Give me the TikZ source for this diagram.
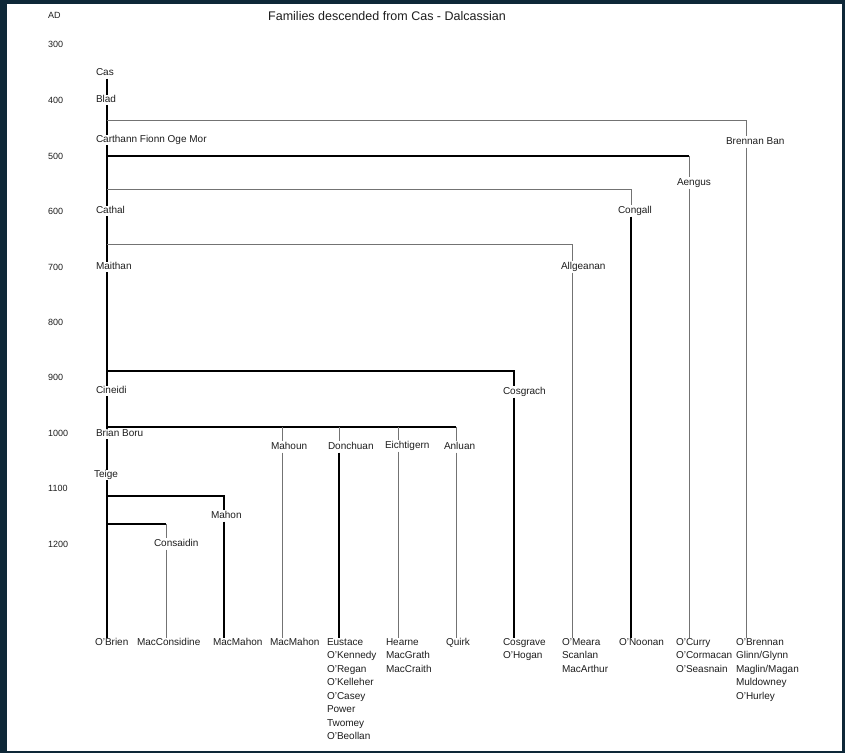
\documentclass[tikz,border=0pt]{standalone}
\usepackage{fontspec}
\setmainfont{Liberation Sans}
\usetikzlibrary{backgrounds}
\definecolor{frame}{RGB}{14,40,56}
\definecolor{ink}{RGB}{30,30,30}
\tikzset{
  lbl/.style={font=\fontsize{10}{12}\selectfont, inner sep=0.8pt, fill=white, text height=7.2pt, text depth=2pt, anchor=west, text=ink},
  stack/.style={font=\fontsize{10}{13.5}\selectfont, inner sep=0.8pt, anchor=north west, align=left, text=ink},
  yr/.style={font=\fontsize{9}{11}\selectfont, inner sep=0pt, anchor=west, text=ink},
  thinl/.style={draw=black!55, line width=0.7pt},
  thickl/.style={draw=black, line width=1.1pt}
}
\begin{document}
\begin{tikzpicture}[x=1pt,y=-1pt]
\useasboundingbox (0,0) rectangle (845,753);
% title and years
\node[font=\fontsize{12.5}{14}\selectfont, text=ink] (title) at (387,16) {Families descended from Cas - Dalcassian};
\node[yr] (yAD) at (48,15) {AD};
\node[yr] (y300) at (48,44) {300};
\node[yr] (y400) at (48,100) {400};
\node[yr] (y500) at (48,156) {500};
\node[yr] (y600) at (48,211) {600};
\node[yr] (y700) at (48,267) {700};
\node[yr] (y800) at (48,322) {800};
\node[yr] (y900) at (48,377) {900};
\node[yr] (y1000) at (48,433) {1000};
\node[yr] (y1100) at (48,488) {1100};
\node[yr] (y1200) at (48,544) {1200};
% main line labels
\node[lbl] (cas) at (95,73) {Cas};
\node[lbl] (blad) at (95,100) {Blad};
\node[lbl] (carthann) at (95,140) {Carthann Fionn Oge Mor};
\node[lbl] (cathal) at (95,211) {Cathal};
\node[lbl] (maithan) at (95,267) {Maithan};
\node[lbl] (cineidi) at (95,391) {Cineidi};
\node[lbl] (brianboru) at (95,434) {Brian Boru};
\node[lbl] (teige) at (93,475) {Teige};
% branch labels
\node[lbl] (brennan) at (725,142) {Brennan Ban};
\node[lbl] (aengus) at (676,183) {Aengus};
\node[lbl] (congall) at (617,211) {Congall};
\node[lbl] (allgeanan) at (560,267) {Allgeanan};
\node[lbl] (cosgrach) at (502,392) {Cosgrach};
\node[lbl] (mahoun) at (270,447) {Mahoun};
\node[lbl] (donchuan) at (327,447) {Donchuan};
\node[lbl] (eichtigern) at (384,446) {Eichtigern};
\node[lbl] (anluan) at (443,447) {Anluan};
\node[lbl] (mahon) at (210,516) {Mahon};
\node[lbl] (consaidin) at (153,544) {Consaidin};
% bottom family names
\node[stack] (obrien) at (94,637.5) {O'Brien};
\node[stack] (macconsidine) at (136,637.5) {MacConsidine};
\node[stack] (macmahonA) at (212,637.5) {MacMahon};
\node[stack] (macmahonB) at (269,637.5) {MacMahon};
\node[stack] (eustace) at (326,637.5) {Eustace\\O'Kennedy\\O'Regan\\O'Kelleher\\O'Casey\\Power\\Twomey\\O'Beollan};
\node[stack] (hearne) at (385,637.5) {Hearne\\MacGrath\\MacCraith};
\node[stack] (quirk) at (445,637.5) {Quirk};
\node[stack] (cosgrave) at (502,637.5) {Cosgrave\\O'Hogan};
\node[stack] (omeara) at (561,637.5) {O'Meara\\Scanlan\\MacArthur};
\node[stack] (onoonan) at (618,637.5) {O'Noonan};
\node[stack] (ocurry) at (675,637.5) {O'Curry\\O'Cormacan\\O'Seasnain};
\node[stack] (obrennan) at (735,637.5) {O'Brennan\\Glinn/Glynn\\Maglin/Magan\\Muldowney\\O'Hurley};
% column coordinates
\coordinate (xS) at (107,0);
\coordinate (xBB) at (746,0);
\coordinate (xAe) at (689,0);
\coordinate (xCo) at (631,0);
\coordinate (xAl) at (572,0);
\coordinate (xCg) at (514,0);
\coordinate (xMo) at (282,0);
\coordinate (xDo) at (339,0);
\coordinate (xEi) at (398,0);
\coordinate (xAn) at (456,0);
\coordinate (xMh) at (224,0);
\coordinate (xCs) at (166,0);
% junctions on the spine
\coordinate (jBB) at (107,120);
\coordinate (jAe) at (107,156);
\coordinate (jCo) at (107,189);
\coordinate (jAl) at (107,244);
\coordinate (jCg) at (107,371);
\coordinate (jBr) at (107,427);
\coordinate (jMh) at (107,496);
\coordinate (jCs) at (107,524);
\begin{scope}[on background layer]
\fill[frame] (0,0) rectangle (845,753);
\fill[white] (7,4) rectangle (842,751);
% spine
\draw[thickl] (cas.south -| xS) -- (obrien.north -| xS);
% Brennan Ban
\draw[thinl] (jBB) -| (brennan.north -| xBB);
\draw[thinl] (brennan.south -| xBB) -- (obrennan.north -| xBB);
% Aengus
\draw[thickl] (jAe) -- (jAe -| xAe);
\draw[thinl] (jAe -| xAe) -- (aengus.north -| xAe);
\draw[thinl] (aengus.south -| xAe) -- (ocurry.north -| xAe);
% Congall
\draw[thinl] (jCo) -| (congall.north -| xCo);
\draw[thickl] (congall.south -| xCo) -- (onoonan.north -| xCo);
% Allgeanan
\draw[thinl] (jAl) -| (allgeanan.north -| xAl);
\draw[thinl] (allgeanan.south -| xAl) -- (omeara.north -| xAl);
% Cosgrach
\draw[thickl] (jCg) -| (cosgrach.north -| xCg);
\draw[thickl] (cosgrach.south -| xCg) -- (cosgrave.north -| xCg);
% Brian Boru's brothers
\draw[thickl] (jBr) -- (jBr -| xAn);
\draw[thinl] (jBr -| xMo) -- (mahoun.north -| xMo);
\draw[thinl] (jBr -| xDo) -- (donchuan.north -| xDo);
\draw[thinl] (jBr -| xEi) -- (eichtigern.north -| xEi);
\draw[thinl] (jBr -| xAn) -- (anluan.north -| xAn);
\draw[thinl] (mahoun.south -| xMo) -- (macmahonB.north -| xMo);
\draw[thickl] (donchuan.south -| xDo) -- (eustace.north -| xDo);
\draw[thinl] (eichtigern.south -| xEi) -- (hearne.north -| xEi);
\draw[thinl] (anluan.south -| xAn) -- (quirk.north -| xAn);
% Mahon
\draw[thickl] (jMh) -| (mahon.north -| xMh);
\draw[thickl] (mahon.south -| xMh) -- (macmahonA.north -| xMh);
% Consaidin
\draw[thickl] (jCs) -- (jCs -| xCs);
\draw[thinl] (jCs -| xCs) -- (consaidin.north -| xCs);
\draw[thinl] (consaidin.south -| xCs) -- (macconsidine.north -| xCs);
\end{scope}
\end{tikzpicture}
\end{document}
